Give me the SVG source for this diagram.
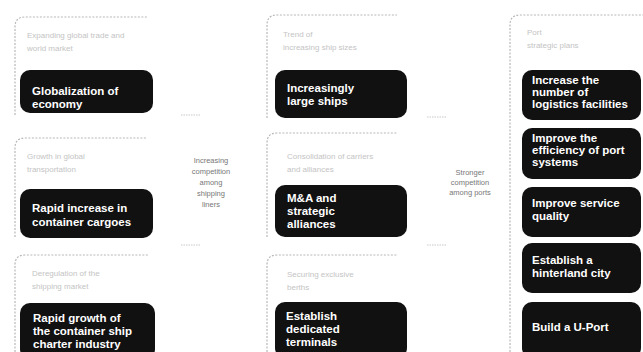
<svg xmlns="http://www.w3.org/2000/svg" width="643" height="352" viewBox="0 0 643 352">
<style>
.frame{fill:none;stroke:#b8b8b8;stroke-width:1.2;stroke-dasharray:2 1.5}
.box{fill:#111}
.t{font-family:"Liberation Sans",Arial,sans-serif;font-weight:bold;font-size:11.5px;fill:#fff}
.lbl{font-family:"Liberation Sans",Arial,sans-serif;font-size:8px;fill:#c4c4c4}
.mid{font-family:"Liberation Sans",Arial,sans-serif;font-size:7.5px;fill:#777;text-anchor:middle}
.tick{stroke:#c8c8c8;stroke-width:1;stroke-dasharray:1.5 1}
</style>
<rect width="643" height="352" fill="#fff"/>

<g id="l1">
<path class="frame" d="M15,115 V27 Q15,17 25,17 H147"/>
<text class="lbl" x="27" y="38">Expanding global trade and</text>
<text class="lbl" x="27" y="51">world market</text>
<rect class="box" x="20" y="70" width="133" height="43" rx="10"/>
<text class="t" x="32" y="95">Globalization of</text>
<text class="t" x="32" y="108">economy</text>
</g>
<g id="l2">
<path class="frame" d="M15,237 V148 Q15,138 25,138 H147"/>
<text class="lbl" x="27" y="159">Growth in global</text>
<text class="lbl" x="27" y="172">transportation</text>
<rect class="box" x="20" y="189" width="133" height="49" rx="10"/>
<text class="t" x="32" y="212">Rapid increase in</text>
<text class="t" x="32" y="226">container cargoes</text>
</g>
<g id="l3">
<path class="frame" d="M15,352 V265 Q15,255 25,255 H148"/>
<text class="lbl" x="32" y="276">Deregulation of the</text>
<text class="lbl" x="32" y="289">shipping market</text>
<rect class="box" x="20" y="303" width="135" height="56" rx="10"/>
<text class="t" x="33" y="322">Rapid growth of</text>
<text class="t" x="33" y="335">the container ship</text>
<text class="t" x="33" y="348">charter industry</text>
</g>

<g id="m1">
<path class="frame" d="M267,118 V25 Q267,15 277,15 H397"/>
<text class="lbl" x="283" y="37">Trend of</text>
<text class="lbl" x="283" y="50">increasing ship sizes</text>
<rect class="box" x="275" y="70" width="132" height="48" rx="10"/>
<text class="t" x="287" y="92">Increasingly</text>
<text class="t" x="287" y="105">large ships</text>
</g>
<g id="m2">
<path class="frame" d="M267,237 V143 Q267,133 277,133 H397"/>
<text class="lbl" x="287" y="159">Consolidation of carriers</text>
<text class="lbl" x="287" y="172">and alliances</text>
<rect class="box" x="275" y="185" width="132" height="52" rx="10"/>
<text class="t" x="287" y="202">M&amp;A and</text>
<text class="t" x="287" y="215">strategic</text>
<text class="t" x="287" y="228">alliances</text>
</g>
<g id="m3">
<path class="frame" d="M267,352 V265 Q267,255 277,255 H398"/>
<text class="lbl" x="287" y="277">Securing exclusive</text>
<text class="lbl" x="287" y="290">berths</text>
<rect class="box" x="275" y="302" width="132" height="56" rx="10"/>
<text class="t" x="286" y="320">Establish</text>
<text class="t" x="286" y="333">dedicated</text>
<text class="t" x="286" y="346">terminals</text>
</g>

<g id="r0">
<path class="frame" d="M510,352 V25 Q510,15 520,15 H643"/>
<text class="lbl" x="527" y="35">Port</text>
<text class="lbl" x="527" y="48">strategic plans</text>
</g>
<g id="r1"><rect class="box" x="522" y="70" width="119" height="50" rx="10"/>
<text class="t" x="532" y="84">Increase the</text>
<text class="t" x="532" y="96">number of</text>
<text class="t" x="532" y="108">logistics facilities</text></g>
<g id="r2"><rect class="box" x="522" y="128" width="119" height="51" rx="10"/>
<text class="t" x="532" y="142">Improve the</text>
<text class="t" x="532" y="154">efficiency of port</text>
<text class="t" x="532" y="166">systems</text></g>
<g id="r3"><rect class="box" x="522" y="187" width="119" height="50" rx="10"/>
<text class="t" x="532" y="207">Improve service</text>
<text class="t" x="532" y="220">quality</text></g>
<g id="r4"><rect class="box" x="522" y="243" width="119" height="50" rx="10"/>
<text class="t" x="532" y="264">Establish a</text>
<text class="t" x="532" y="277">hinterland city</text></g>
<g id="r5"><rect class="box" x="522" y="302" width="119" height="56" rx="10"/>
<text class="t" x="532" y="331">Build a U-Port</text></g>

<g id="connectors">
<line class="tick" x1="181" y1="115" x2="200" y2="115"/>
<line class="tick" x1="181" y1="245" x2="200" y2="245"/>
<line class="tick" x1="427" y1="117" x2="446" y2="117"/>
<line class="tick" x1="427" y1="245" x2="446" y2="245"/>
<text class="mid" x="211" y="163">Increasing</text>
<text class="mid" x="211" y="174">competition</text>
<text class="mid" x="211" y="185">among</text>
<text class="mid" x="211" y="196">shipping</text>
<text class="mid" x="211" y="207">liners</text>
<text class="mid" x="470" y="175">Stronger</text>
<text class="mid" x="470" y="185">competition</text>
<text class="mid" x="470" y="195">among ports</text>
</g>
</svg>
